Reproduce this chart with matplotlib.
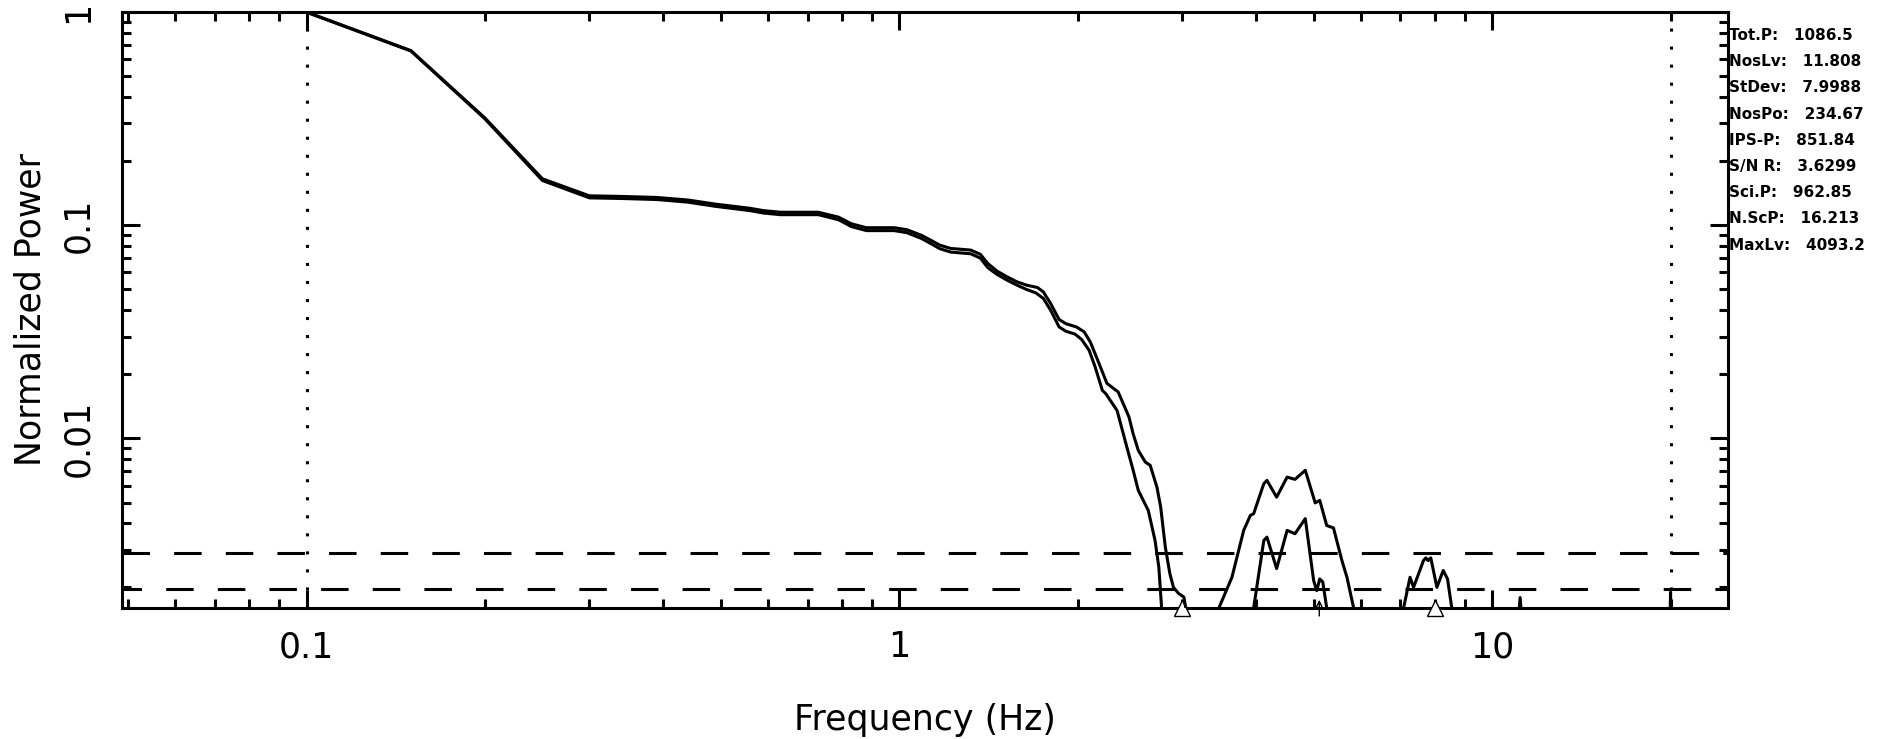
import matplotlib
matplotlib.use("Agg")
import matplotlib.pyplot as plt
from matplotlib.ticker import LogLocator, NullFormatter

# power spectrum, total (upper) and noise subtracted (lower)
f_up = [0.10, 0.15, 0.20, 0.25, 0.30, 0.34, 0.39, 0.44, 0.49, 0.56,
        0.59, 0.63, 0.73, 0.79, 0.83, 0.88, 0.98, 1.03, 1.09, 1.13,
        1.17, 1.22, 1.32, 1.37, 1.41, 1.46, 1.52, 1.58, 1.64, 1.71,
        1.75, 1.80, 1.86, 1.91, 1.99, 2.05, 2.10, 2.15, 2.24, 2.34,
        2.44, 2.48, 2.53, 2.60, 2.65, 2.72, 2.76, 2.81, 2.86, 2.90,
        2.96, 3.02, 3.10, 3.40, 3.46, 3.64, 3.81, 3.91, 3.96, 4.12,
        4.17, 4.33, 4.51, 4.65, 4.84, 5.03, 5.12, 5.26, 5.40, 5.58,
        5.69, 5.84, 5.90, 7.05, 7.09, 7.27, 7.37, 7.66, 7.73, 7.80,
        7.88, 8.07, 8.27, 8.41, 8.55, 8.60, 11.05, 11.15, 11.25, 19.95,
        20.00, 20.05, 25.0]
p_up = [1.0, 0.659, 0.318, 0.165, 0.1373, 0.1364, 0.1349, 0.1312, 0.1255, 0.120,
        0.117, 0.115, 0.115, 0.109, 0.1015, 0.0973, 0.0973, 0.0952, 0.0896, 0.0850,
        0.0806, 0.0778, 0.0764, 0.0730, 0.0661, 0.0610, 0.0572, 0.0542, 0.0523, 0.0510,
        0.0486, 0.0429, 0.0361, 0.0345, 0.0333, 0.0316, 0.0283, 0.0241, 0.0181, 0.0165,
        0.0126, 0.0105, 0.00878, 0.00774, 0.00747, 0.0059, 0.00476, 0.00309, 0.00232, 0.0020,
        0.00187, 0.0018, 0.0012, 0.0012, 0.0016, 0.00223, 0.0037, 0.00435, 0.00443, 0.00613,
        0.00635, 0.0053, 0.00658, 0.00642, 0.00708, 0.00498, 0.00512, 0.0039, 0.0038, 0.00267,
        0.00223, 0.0016, 0.0012, 0.0012, 0.0016, 0.00223, 0.0020, 0.00267, 0.00275, 0.00267,
        0.00275, 0.0020, 0.0024, 0.00219, 0.0016, 0.0012, 0.0013, 0.00179, 0.0013, 0.0013,
        0.0019, 0.0013, 0.0012]

f_lo = [0.10, 0.15, 0.20, 0.25, 0.30, 0.34, 0.39, 0.44, 0.49, 0.56,
        0.59, 0.63, 0.73, 0.79, 0.83, 0.88, 0.98, 1.03, 1.09, 1.13,
        1.17, 1.22, 1.32, 1.37, 1.41, 1.46, 1.52, 1.58, 1.64, 1.70,
        1.75, 1.80, 1.86, 1.91, 1.98, 2.03, 2.09, 2.14, 2.20, 2.23,
        2.33, 2.42, 2.48, 2.53, 2.63, 2.70, 2.74, 2.77, 2.80, 3.95,
        3.96, 4.12, 4.17, 4.33, 4.51, 4.65, 4.84, 5.00, 5.06, 5.12,
        5.18, 5.26, 5.30]
p_lo = [0.997, 0.656, 0.315, 0.162, 0.1343, 0.1334, 0.1319, 0.1282, 0.1225, 0.117,
        0.114, 0.112, 0.112, 0.106, 0.0985, 0.0943, 0.0943, 0.0922, 0.0866, 0.0820,
        0.0776, 0.0748, 0.0734, 0.0700, 0.0632, 0.0589, 0.0552, 0.0523, 0.0499, 0.0481,
        0.0453, 0.0399, 0.0333, 0.0318, 0.0308, 0.0291, 0.0259, 0.0216, 0.0168, 0.0162,
        0.0135, 0.0091, 0.00708, 0.0057, 0.00459, 0.00332, 0.00249, 0.0016, 0.0010, 0.0010,
        0.0016, 0.00332, 0.00344, 0.00245, 0.0037, 0.00357, 0.0042, 0.00215, 0.00193, 0.00219,
        0.00212, 0.0016, 0.0010]

noise_levels = [0.0029, 0.00197]
freq_limits = [0.1, 20.0]
peak_marks = [3.0, 8.0]
arrow_freq = 5.11

stat_names = ["Tot.P:", "NosLv:", "StDev:", "NosPo:", "IPS-P:", "S/N R:", "Sci.P:", "N.ScP:", "MaxLv:"]
stat_values = ["1086.5", "11.808", "7.9988", "234.67", "851.84", "3.6299", "962.85", "16.213", "4093.2"]

plt.rcParams['font.family'] = ['DejaVu Sans']

W, H = 1888, 739
fig = plt.figure(figsize=(W / 100, H / 100), dpi=100)
ax = fig.add_axes([122 / W, 1 - 608 / H, 1606 / W, 596 / H])
ax.set_xscale('log')
ax.set_yscale('log')
ax.set_xlim(25 / 512, 25)
ax.set_ylim(0.0016, 1)

lw = 2.2
ax.plot(f_up, p_up, color='black', lw=lw, zorder=4)
ax.plot(f_lo, p_lo, color='black', lw=lw, zorder=4)

# noise levels
ax.axhline(noise_levels[0], color='black', lw=lw, linestyle=(0, (9.0, 7.9)), zorder=3)
ax.axhline(noise_levels[1], color='black', lw=lw, linestyle=(2.6, (9.0, 7.9)), zorder=3)

# frequency range
for fl in freq_limits:
    ax.axvline(fl, color='black', lw=lw, linestyle=(0, (1, 4.9)), zorder=3)

# peak markers and arrow at the bottom axis
ax.plot(peak_marks, [0.0016] * len(peak_marks), linestyle='none', marker='^', ms=11,
        mfc='white', mec='black', mew=1.0, clip_on=False, zorder=3)
ax.annotate('', xy=(arrow_freq, 0.0185), xycoords=('data', 'axes fraction'),
            xytext=(arrow_freq, -0.018), textcoords=('data', 'axes fraction'),
            arrowprops=dict(arrowstyle='->,head_length=0.45,head_width=0.22', lw=1.0, color='black'),
            annotation_clip=False, zorder=5)

for s in ax.spines.values():
    s.set_linewidth(2.2)

ax.set_xticks([0.1, 1, 10], labels=['0.1', '1', '10'])
ax.set_yticks([0.01, 0.1, 1], labels=['0.01', '0.1', '1'])
ax.xaxis.set_minor_locator(LogLocator(base=10, subs=range(2, 10), numticks=20))
ax.yaxis.set_minor_locator(LogLocator(base=10, subs=range(2, 10), numticks=20))
ax.xaxis.set_minor_formatter(NullFormatter())
ax.yaxis.set_minor_formatter(NullFormatter())
ax.tick_params(which='both', direction='in', top=True, right=True, width=2.2, labelsize=25)
ax.tick_params(which='major', length=13)
ax.tick_params(which='minor', length=6.5)
ax.tick_params(axis='x', pad=16)
ax.tick_params(axis='y', pad=19)
for t in ax.get_yticklabels():
    t.set_rotation(90)
    t.set_va('center')

fig.text(925 / W, 1 - 720 / H, 'Frequency (Hz)', fontsize=25, ha='center', va='center')
fig.text(31 / W, 1 - 310 / H, 'Normalized Power', fontsize=25, ha='center', va='center', rotation=90)

for i, (n, v) in enumerate(zip(stat_names, stat_values)):
    y = 35.5 + 26.2 * i
    fig.text(1729 / W, 1 - y / H, n + '   ' + v, fontsize=11, fontweight='bold',
             ha='left', va='center')

fig.savefig('out.png', dpi=100)
